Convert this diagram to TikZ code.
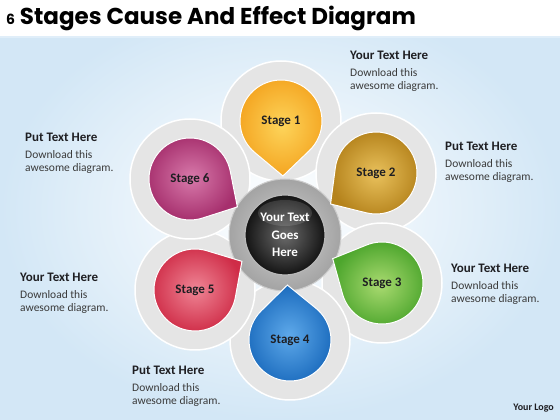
\documentclass[tikz,border=0pt]{standalone}
\usepackage{fontspec}
\setmainfont{Carlito}
\newfontfamily\titlefont{Poppins}
\usetikzlibrary{calc}

\definecolor{bgblue}{HTML}{D3E7F6}
\definecolor{inkdark}{HTML}{1E1E22}
\definecolor{inkbody}{HTML}{3A3A3A}
\definecolor{oneLight}{HTML}{FDD45A}
\definecolor{oneDark}{HTML}{F4A521}
\definecolor{twoLight}{HTML}{E9C15C}
\definecolor{twoDark}{HTML}{B5831C}
\definecolor{threeLight}{HTML}{A9DA70}
\definecolor{threeDark}{HTML}{4DA62D}
\definecolor{fourLight}{HTML}{5EA9EA}
\definecolor{fourDark}{HTML}{1C6CBE}
\definecolor{fiveLight}{HTML}{EF8595}
\definecolor{fiveDark}{HTML}{CF2C47}
\definecolor{sixLight}{HTML}{D87AAB}
\definecolor{sixDark}{HTML}{A62F6D}

\tikzset{
  teardrop/.pic={
    \path[pic actions] (41.8:41) arc[start angle=41.8, end angle=318.2, radius=41]
      -- (55,0) -- cycle;
  },
  drop/.style={draw=white, line width=1pt},
  backdisc/.style={fill=gray!20, draw=white, line width=1.5pt},
  stagelabel/.style={font=\bfseries\fontsize{13}{15}\selectfont, text=inkdark},
  textblock/.style={anchor=north west, align=left, inner sep=0pt,
    font=\fontsize{11.5}{13.5}\selectfont, text=inkbody}
}

\begin{document}
\begin{tikzpicture}[x=1pt,y=1pt]
  \useasboundingbox (0,0) rectangle (560,420);

  % Background
  \shade[inner color=white, outer color=bgblue] (0,0) rectangle (560,420);
  \fill[white] (0,384) rectangle (560,420);
  \draw[bgblue!70, line width=2pt] (0,383) -- (560,383);

  % Title
  \node[anchor=west, inner sep=0pt, font=\titlefont\bfseries\fontsize{23}{27}\selectfont,
        text=black] (title) at (6,402) {{\fontsize{14}{16}\selectfont 6} Stages Cause And Effect Diagram};

  % Centres of the six stages
  \coordinate (hubc) at (285,185);
  \coordinate (c1) at (281,299);
  \coordinate (c2) at (376,247);
  \coordinate (c3) at (382,137);
  \coordinate (c4) at (290,80);
  \coordinate (c5) at (195,130);
  \coordinate (c6) at (190,241);

  % Grey discs behind the stages
  \path[backdisc] (c1) circle (60);
  \path[backdisc] (c2) circle (60);
  \path[backdisc] (c3) circle (60);
  \path[backdisc] (c4) circle (60);
  \path[backdisc] (c5) circle (60);
  \path[backdisc] (c6) circle (60);

  % Hub
  \node[circle, minimum size=112pt, inner sep=0pt, draw=gray!40, line width=1pt,
        inner color=gray!35, outer color=gray!72] (ring) at (hubc) {};
  \node[circle, minimum size=80pt, inner sep=0pt, draw=gray!55, line width=1.2pt,
        inner color=black!58, outer color=black!92] (hub) at (hubc) {};
  \fill[white, opacity=0.13] ($(hubc)+(0,22)$) ellipse (27 and 13);
  \node[align=center, font=\bfseries\fontsize{13}{17.5}\selectfont, text=white] (hubtext) at (hubc) {Your Text\\Goes\\Here};

  % Teardrops
  \pic[drop, rotate=-88, inner color=oneLight, outer color=oneDark] at (c1) {teardrop};
  \pic[drop, rotate=-145.7, inner color=twoLight, outer color=twoDark] at (c2) {teardrop};
  \pic[drop, rotate=153.7, inner color=threeLight, outer color=threeDark] at (c3) {teardrop};
  \pic[drop, rotate=92.7, inner color=fourLight, outer color=fourDark] at (c4) {teardrop};
  \pic[drop, rotate=31.4, inner color=fiveLight, outer color=fiveDark] at (c5) {teardrop};
  \pic[drop, rotate=-30.5, inner color=sixLight, outer color=sixDark] at (c6) {teardrop};

  \node[stagelabel] (s1) at (c1) {Stage 1};
  \node[stagelabel] (s2) at (c2) {Stage 2};
  \node[stagelabel] (s3) at (c3) {Stage 3};
  \node[stagelabel] (s4) at (c4) {Stage 4};
  \node[stagelabel] (s5) at (c5) {Stage 5};
  \node[stagelabel] (s6) at (c6) {Stage 6};

  % Text blocks
  \node[textblock] (t1) at (350,369) {{\bfseries\fontsize{13}{15}\selectfont\color{inkdark}Your Text Here}\\[3pt]Download this\\awesome diagram.};
  \node[textblock] (t2) at (445,278) {{\bfseries\fontsize{13}{15}\selectfont\color{inkdark}Put Text Here}\\[3pt]Download this\\awesome diagram.};
  \node[textblock] (t3) at (451,156) {{\bfseries\fontsize{13}{15}\selectfont\color{inkdark}Your Text Here}\\[3pt]Download this\\awesome diagram.};
  \node[textblock] (t4) at (132,54) {{\bfseries\fontsize{13}{15}\selectfont\color{inkdark}Put Text Here}\\[3pt]Download this\\awesome diagram.};
  \node[textblock] (t5) at (20,147) {{\bfseries\fontsize{13}{15}\selectfont\color{inkdark}Your Text Here}\\[3pt]Download this\\awesome diagram.};
  \node[textblock] (t6) at (25,287) {{\bfseries\fontsize{13}{15}\selectfont\color{inkdark}Put Text Here}\\[3pt]Download this\\awesome diagram.};

  \node[anchor=east, inner sep=0pt, font=\bfseries\fontsize{10}{12}\selectfont, text=inkdark] (logo) at (554,12) {Your Logo};
\end{tikzpicture}
\end{document}
